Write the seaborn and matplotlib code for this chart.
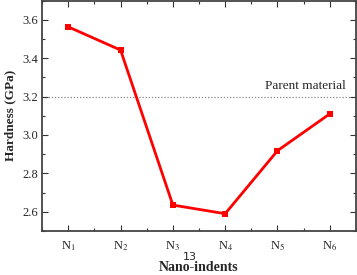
import numpy as np
import pandas as pd
import matplotlib
matplotlib.use("Agg")
import matplotlib.pyplot as plt
import seaborn as sns
from matplotlib.ticker import MultipleLocator, FormatStrFormatter

indents = [1, 2, 3, 4, 5, 6]
tick_labels = ["N$_1$", "N$_2$", "N$_3$", "N$_4$", "N$_5$", "N$_6$"]
hardness = [3.563, 3.442, 2.635, 2.590, 2.918, 3.110]
parent_hardness = 3.2

df = pd.DataFrame({"indent": indents, "hardness": hardness})

sns.set_style("ticks")
plt.rcParams["font.family"] = ["Liberation Serif", "DejaVu Serif"]
plt.rcParams["mathtext.fontset"] = "stix"

fig = plt.figure(figsize=(3.57, 2.75), dpi=100)
ax = fig.add_axes([0.118, 0.16, 0.879, 0.838])

sns.lineplot(data=df, x="indent", y="hardness", ax=ax, color="#ff0000",
             linewidth=2.0, marker="s", markersize=4.5, markeredgewidth=0)
ax.axhline(parent_hardness, color="#888888", linestyle=(0, (1, 1.5)),
           linewidth=0.9, zorder=0)
ax.text(6.31, parent_hardness + 0.025, "Parent material", ha="right",
        va="bottom", fontsize=9.5)

ax.set_xlim(0.5, 6.5)
ax.set_ylim(2.5, 3.7)
ax.set_xticks(indents)
ax.set_xticklabels(tick_labels, fontsize=9)
ax.xaxis.set_minor_locator(MultipleLocator(0.5))
ax.yaxis.set_major_locator(MultipleLocator(0.2))
ax.yaxis.set_minor_locator(MultipleLocator(0.1))
ax.yaxis.set_major_formatter(FormatStrFormatter("%.1f"))
for lab in ax.get_yticklabels():
    lab.set_fontsize(9)

ax.tick_params(which="both", direction="in", top=True, right=True,
               color="#333333", width=0.8)
ax.tick_params(which="major", length=4)
ax.tick_params(which="minor", length=2.5)
ax.tick_params(axis="x", which="major", pad=6)
ax.tick_params(axis="y", which="major", pad=3)
for s in ax.spines.values():
    s.set_linewidth(1.3)
    s.set_color("#444444")

ax.set_xlabel("")
ax.set_ylabel("Hardness (GPa)", fontsize=9.5, fontweight="bold", labelpad=4)
fig.text(0.555, 0.005, "Nano-indents", ha="center", va="bottom",
         fontsize=10, fontweight="bold")
fig.text(0.533, 0.047, "13", ha="center", va="bottom", fontsize=8,
         family=["DejaVu Sans"])

fig.savefig("out.png", dpi=100)
